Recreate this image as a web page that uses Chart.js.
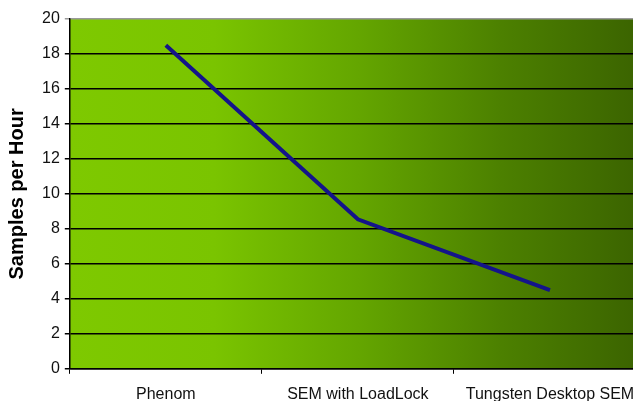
<!DOCTYPE html>
<html>
<head>
<meta charset="utf-8">
<script src="https://cdn.jsdelivr.net/npm/chart.js@4"></script>
<style>
  html, body { margin: 0; padding: 0; background: #fff; overflow: hidden; }
  #wrap { width: 633px; height: 401px; overflow: hidden; }
</style>
</head>
<body>
<div id="wrap"><canvas id="chart" width="660" height="415"></canvas></div>
<script>
const CATEGORIES = ["Phenom", "SEM with LoadLock", "Tungsten Desktop SEM"];
const SAMPLES = [18.5, 8.55, 4.5];
const Y_TITLE = "Samples per Hour";

const plotBackground = {
    id: "plotBackground",
    beforeDraw(chart) {
        const { ctx, chartArea: a } = chart;
        const g = ctx.createLinearGradient(a.left, 0, a.right, 0);
        g.addColorStop(0, "#7ec900");
        g.addColorStop(0.25, "#7ac400");
        g.addColorStop(0.5, "#64a600");
        g.addColorStop(0.75, "#4c8000");
        g.addColorStop(1, "#3a6200");
        ctx.save();
        ctx.fillStyle = g;
        ctx.fillRect(a.left, a.top, a.right - a.left, a.bottom - a.top);
        ctx.restore();
    },
};

new Chart(document.getElementById("chart").getContext("2d"), {
    type: "line",
    data: {
        labels: CATEGORIES,
        datasets: [
            {
                data: SAMPLES,
                borderColor: "#14148a",
                borderWidth: 4,
                pointRadius: 0,
                tension: 0,
                fill: false,
            },
        ],
    },
    options: {
        responsive: false,
        animation: false,
        layout: { padding: { top: 19, right: 14, bottom: 0, left: 5 } },
        plugins: {
            legend: { display: false },
            tooltip: { enabled: false },
        },
        scales: {
            x: {
                offset: true,
                grid: {
                    offset: true,
                    drawOnChartArea: false,
                    drawTicks: true,
                    tickLength: 5,
                    color: "#000",
                },
                border: { color: "#000", width: 1.5 },
                ticks: {
                    color: "#111",
                    padding: 11,
                    maxRotation: 0,
                    font: { family: "Liberation Sans", size: 16 },
                },
            },
            y: {
                min: 0,
                max: 20,
                ticks: {
                    stepSize: 2,
                    color: "#111",
                    padding: 5,
                    font: { family: "Liberation Sans", size: 16 },
                },
                grid: {
                    color: (c) => (c.tick && c.tick.value === 20 ? "#999" : "#000"),
                    lineWidth: 1.5,
                    tickLength: 5,
                },
                border: { color: "#000", width: 1.5 },
                title: {
                    display: true,
                    text: Y_TITLE,
                    color: "#000",
                    padding: { top: 0, bottom: 8 },
                    font: { family: "Liberation Sans", size: 20, weight: "bold" },
                },
            },
        },
    },
    plugins: [plotBackground],
});
</script>
</body>
</html>
